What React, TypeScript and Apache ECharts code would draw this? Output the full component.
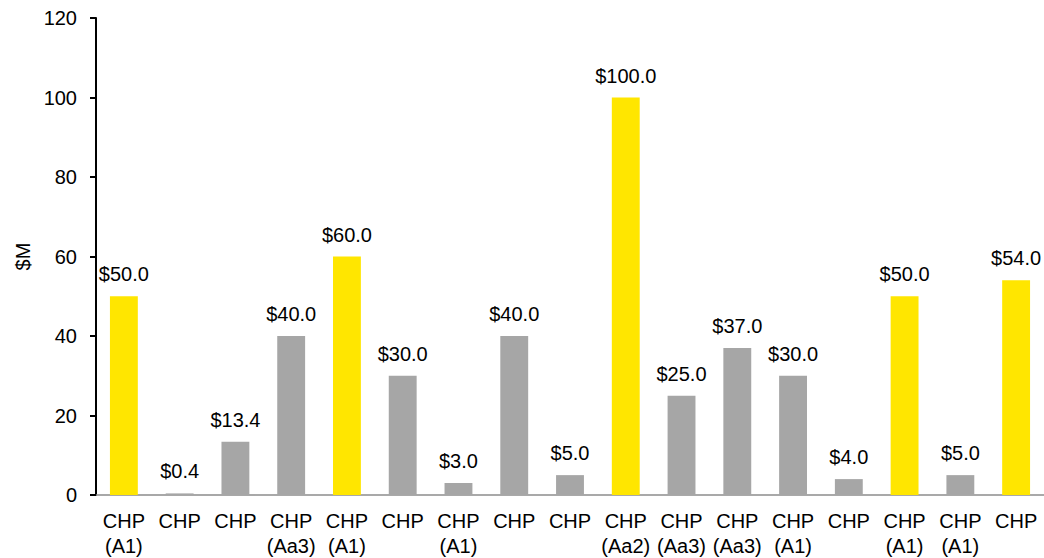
import React, { useEffect, useRef } from "react";
import * as echarts from "echarts";

const categories = [
  "CHP\n(A1)", "CHP", "CHP", "CHP\n(Aa3)", "CHP\n(A1)", "CHP", "CHP\n(A1)", "CHP", "CHP",
  "CHP\n(Aa2)", "CHP\n(Aa3)", "CHP\n(Aa3)", "CHP\n(A1)", "CHP", "CHP\n(A1)", "CHP\n(A1)", "CHP",
];
const values = [50, 0.4, 13.4, 40, 60, 30, 3, 40, 5, 100, 25, 37, 30, 4, 50, 5, 54];
const highlighted = [true, false, false, false, true, false, false, false, false, true, false, false, false, false, true, false, true];
const yTicks = { min: 0, max: 120, interval: 20 };

const YELLOW = "#FFE600";
const GREY = "#A6A6A6";
const FONT = "'Liberation Sans', Arial, sans-serif";

export default function App() {
  const ref = useRef<HTMLDivElement>(null);
  useEffect(() => {
    if (!ref.current) return;
    const chart = echarts.init(ref.current, undefined, { renderer: "svg" });
    chart.setOption({
      animation: false,
      grid: { left: 96, right: 0, top: 18, bottom: 61, containLabel: false },
      xAxis: {
        type: "category",
        data: categories,
        axisLine: { lineStyle: { color: "#8C8C8C", width: 1.5 } },
        axisTick: { show: false },
        axisLabel: {
          color: "#000",
          fontSize: 20,
          fontFamily: FONT,
          lineHeight: 25,
          margin: 13,
          interval: 0,
        },
      },
      yAxis: {
        type: "value",
        min: yTicks.min,
        max: yTicks.max,
        interval: yTicks.interval,
        name: "$M",
        nameLocation: "middle",
        nameGap: 61,
        nameTextStyle: { color: "#000", fontSize: 20, fontFamily: FONT },
        axisLine: { show: true, lineStyle: { color: "#000", width: 2 } },
        axisTick: { show: true, length: 6, lineStyle: { color: "#000", width: 2 } },
        axisLabel: { color: "#000", fontSize: 20, fontFamily: FONT, margin: 19 },
        splitLine: { show: false },
      },
      series: [
        {
          type: "bar",
          data: values.map((v, i) => ({
            value: v,
            itemStyle: { color: highlighted[i] ? YELLOW : GREY },
          })),
          barWidth: "50%",
          label: {
            show: true,
            position: "top",
            distance: 12,
            color: "#000",
            fontSize: 20,
            fontFamily: FONT,
            formatter: (p: any) => "$" + Number(p.value).toFixed(1),
          },
        },
      ],
    });
    return () => chart.dispose();
  }, []);
  return <div ref={ref} style={{ width: 1044, height: 558, position: "absolute", left: 0, top: 0 }} />;
}
